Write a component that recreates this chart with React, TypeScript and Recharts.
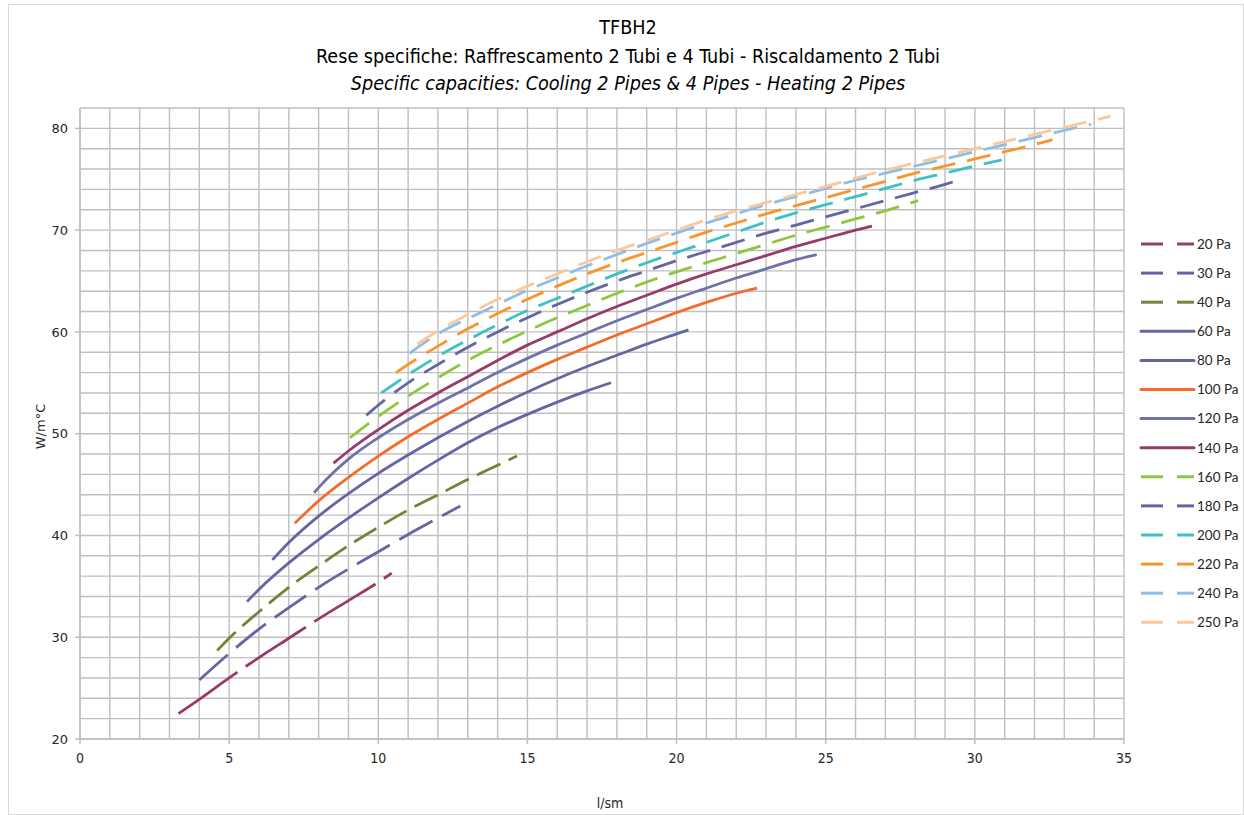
import React from 'react';
import { LineChart, Line, XAxis, YAxis, CartesianGrid } from 'recharts';

// ---------- data ----------
const seriesNames = ['20 Pa', '30 Pa', '40 Pa', '60 Pa', '80 Pa', '100 Pa', '120 Pa', '140 Pa', '160 Pa', '180 Pa', '200 Pa', '220 Pa', '240 Pa', '250 Pa'];

const pa20X = [3.3, 4, 5, 6, 7, 8, 9, 10, 10.45];
const pa20Y = [22.5, 23.9, 26.0, 28.0, 29.9, 31.8, 33.6, 35.4, 36.3];

const pa30X = [4, 5, 6, 7, 8, 9, 10, 11, 12, 12.75];
const pa30Y = [25.8, 28.4, 30.8, 32.9, 34.9, 36.7, 38.4, 40.1, 41.7, 42.9];

const pa40X = [4.6, 5, 6, 7, 8, 9, 10, 11, 12, 13, 14, 14.65];
const pa40Y = [28.7, 29.9, 32.5, 34.9, 37.0, 39.0, 40.8, 42.5, 44.0, 45.5, 46.9, 47.8];

const pa60X = [5.6, 6, 7, 8, 9, 10, 11, 12, 13, 14, 15, 16, 17, 17.8];
const pa60Y = [33.5, 34.7, 37.3, 39.6, 41.7, 43.7, 45.6, 47.4, 49.1, 50.6, 51.9, 53.1, 54.2, 55.0];

const pa80X = [6.45, 7, 8, 9, 10, 11, 12, 13, 14, 15, 16, 17, 18, 19, 20, 20.4];
const pa80Y = [37.6, 39.3, 41.9, 44.1, 46.1, 47.9, 49.6, 51.2, 52.7, 54.1, 55.4, 56.6, 57.7, 58.8, 59.8, 60.2];

const pa100X = [7.2, 8, 9, 10, 11, 12, 13, 14, 15, 16, 17, 18, 19, 20, 21, 22, 22.7];
const pa100Y = [41.2, 43.4, 45.7, 47.8, 49.7, 51.4, 53.0, 54.6, 56.0, 57.3, 58.5, 59.7, 60.8, 61.9, 62.9, 63.8, 64.3];

const pa120X = [7.85, 8, 9, 10, 11, 12, 13, 14, 15, 16, 17, 18, 19, 20, 21, 22, 23, 24, 24.7];
const pa120Y = [44.2, 44.7, 47.5, 49.6, 51.4, 53.0, 54.5, 56.0, 57.4, 58.7, 59.9, 61.1, 62.2, 63.3, 64.3, 65.3, 66.2, 67.1, 67.6];

const pa140X = [8.5, 9, 10, 11, 12, 13, 14, 15, 16, 17, 18, 19, 20, 21, 22, 23, 24, 25, 26, 26.55];
const pa140Y = [47.1, 48.3, 50.4, 52.3, 54.0, 55.6, 57.2, 58.7, 60.0, 61.3, 62.5, 63.6, 64.7, 65.7, 66.6, 67.5, 68.4, 69.2, 70.0, 70.4];

const pa160X = [9.05, 10, 11, 12, 13, 14, 15, 16, 17, 18, 19, 20, 21, 22, 23, 24, 25, 26, 27, 28.1];
const pa160Y = [49.6, 51.7, 53.7, 55.5, 57.2, 58.7, 60.1, 61.4, 62.6, 63.8, 64.9, 65.9, 66.8, 67.7, 68.6, 69.5, 70.3, 71.1, 71.9, 72.9];

const pa180X = [9.6, 10, 11, 12, 13, 14, 15, 16, 17, 18, 19, 20, 21, 22, 23, 24, 25, 26, 27, 28, 29, 29.55];
const pa180Y = [51.8, 52.8, 55.0, 56.8, 58.5, 60.0, 61.4, 62.7, 63.9, 65.0, 66.0, 67.0, 67.9, 68.8, 69.7, 70.5, 71.3, 72.1, 72.9, 73.7, 74.5, 75.0];

const pa200X = [10.1, 11, 12, 13, 14, 15, 16, 17, 18, 19, 20, 21, 22, 23, 24, 25, 26, 27, 28, 29, 30, 30.9];
const pa200Y = [54.0, 55.8, 57.6, 59.2, 60.7, 62.1, 63.3, 64.5, 65.7, 66.8, 67.8, 68.8, 69.8, 70.8, 71.7, 72.5, 73.3, 74.1, 74.9, 75.6, 76.3, 76.9];

const pa220X = [10.6, 11, 12, 13, 14, 15, 16, 17, 18, 19, 20, 21, 22, 23, 24, 25, 26, 27, 28, 29, 30, 31, 32, 32.6];
const pa220Y = [56.0, 56.8, 58.6, 60.3, 61.8, 63.2, 64.5, 65.7, 66.8, 67.8, 68.8, 69.8, 70.7, 71.6, 72.4, 73.2, 74.0, 74.8, 75.6, 76.3, 77.0, 77.7, 78.4, 78.9];

const pa240X = [11.05, 12, 13, 14, 15, 16, 17, 18, 19, 20, 21, 22, 23, 24, 25, 26, 27, 28, 29, 30, 31, 32, 33, 33.9];
const pa240Y = [57.9, 59.8, 61.3, 62.7, 64.1, 65.3, 66.5, 67.6, 68.7, 69.7, 70.7, 71.6, 72.5, 73.3, 74.1, 74.9, 75.6, 76.3, 77.0, 77.7, 78.4, 79.1, 79.8, 80.4];

const pa250X = [11.3, 12, 13, 14, 15, 16, 17, 18, 19, 20, 21, 22, 23, 24, 25, 26, 27, 28, 29, 30, 31, 32, 33, 34, 34.55];
const pa250Y = [58.8, 60.1, 61.7, 63.2, 64.5, 65.7, 66.9, 68.0, 69.0, 70.0, 71.0, 71.9, 72.7, 73.5, 74.3, 75.1, 75.9, 76.6, 77.3, 78.0, 78.7, 79.4, 80.1, 80.8, 81.2];

const xTicks = [0, 1, 2, 3, 4, 5, 6, 7, 8, 9, 10, 11, 12, 13, 14, 15, 16, 17, 18, 19, 20, 21, 22, 23, 24, 25, 26, 27, 28, 29, 30, 31, 32, 33, 34, 35];
const xLabelTicks = [0, 5, 10, 15, 20, 25, 30, 35];
const yTicks = [20, 22, 24, 26, 28, 30, 32, 34, 36, 38, 40, 42, 44, 46, 48, 50, 52, 54, 56, 58, 60, 62, 64, 66, 68, 70, 72, 74, 76, 78, 80, 82];
const yLabelTicks = [20, 30, 40, 50, 60, 70, 80];

// ---------- styles ----------
const seriesColors = ['#963b6b', '#6366a3', '#7a803a', '#6366a3', '#6366a3', '#f26c2b', '#6f72aa', '#963b6b', '#8dc63f', '#6366a3', '#3fc0c4', '#f7962f', '#8fbde6', '#fbc79b'];
const seriesDash = ['72 10', '38 11', '26 9', '', '', '', '', '', '24 12', '24 12', '24 12', '24 12', '24 12', '24 12'];

const pair = (xs: number[], ys: number[]) => xs.map((x, i) => ({ x, y: ys[i] }));
const seriesData = [
  pair(pa20X, pa20Y), pair(pa30X, pa30Y), pair(pa40X, pa40Y), pair(pa60X, pa60Y), pair(pa80X, pa80Y),
  pair(pa100X, pa100Y), pair(pa120X, pa120Y), pair(pa140X, pa140Y), pair(pa160X, pa160Y), pair(pa180X, pa180Y),
  pair(pa200X, pa200Y), pair(pa220X, pa220Y), pair(pa240X, pa240Y), pair(pa250X, pa250Y),
];

const GRID = '#bfbfbf';
const TEXT = '#262626';
const NARROW = '"Liberation Sans Narrow", "DejaVu Sans Condensed", "Roboto Condensed", "Liberation Sans", sans-serif';

const X_TICK_SIZE = 5, X_TICK_MARGIN = 9;
const Y_TICK_SIZE = 5, Y_TICK_MARGIN = 7;

const XTick = (props: any) => {
  const { x, y, payload } = props;
  const v = payload.value;
  if (!xLabelTicks.includes(v)) return <g />;
  return (
    <g>
      <line x1={x} x2={x} y1={y - X_TICK_MARGIN - X_TICK_SIZE} y2={y - X_TICK_MARGIN} stroke={GRID} strokeWidth={1.5} />
      <text x={x} y={y} dy="0.71em" textAnchor="middle" fontFamily={NARROW} fontSize={14} fill={TEXT}>{v}</text>
    </g>
  );
};

const YTick = (props: any) => {
  const { x, y, payload } = props;
  const v = payload.value;
  if (!yLabelTicks.includes(v)) return <g />;
  return (
    <g>
      <line x1={x + Y_TICK_MARGIN} x2={x + Y_TICK_MARGIN + Y_TICK_SIZE} y1={y} y2={y} stroke={GRID} strokeWidth={1.5} />
      <text x={x} y={y} dy="0.36em" textAnchor="end" fontFamily='"DejaVu Sans", sans-serif' fontSize={13} fill={TEXT}>{v}</text>
    </g>
  );
};

const Legend = () => (
  <svg width={110} height={420} style={{ position: 'absolute', left: 1134, top: 230 }}>
    {seriesNames.map((name, i) => {
      const cy = 14 + i * 29.1;
      const dashed = seriesDash[i] !== '';
      return (
        <g key={name}>
          {dashed ? (
            <>
              <line x1={7} x2={29} y1={cy} y2={cy} stroke={seriesColors[i]} strokeWidth={3} />
              <line x1={43} x2={60} y1={cy} y2={cy} stroke={seriesColors[i]} strokeWidth={3} />
            </>
          ) : (
            <line x1={7} x2={60} y1={cy} y2={cy} stroke={seriesColors[i]} strokeWidth={3} strokeLinecap="round" />
          )}
          <text x={63} y={cy} dy="0.36em" fontFamily='Lato, "Liberation Sans", sans-serif' fontSize={13.5} fill={TEXT}>{name}</text>
        </g>
      );
    })}
  </svg>
);

const titleStyle: React.CSSProperties = {
  position: 'absolute', left: 128, width: 1000, textAlign: 'center',
  fontFamily: NARROW, fontSize: 19.6, color: '#000', lineHeight: '22px', whiteSpace: 'nowrap',
};

export default function App() {
  return (
    <div style={{ position: 'absolute', left: 0, top: 0, width: 1244, height: 815, background: '#fff', overflow: 'hidden' }}>
      <div style={{ position: 'absolute', left: 8, top: 4, width: 1236, height: 811, border: '1px solid #d9d9d9', boxSizing: 'border-box' }} />
      <div style={{ ...titleStyle, top: 17 }}>TFBH2</div>
      <div style={{ ...titleStyle, top: 46 }}>Rese specifiche: Raffrescamento 2 Tubi e 4 Tubi - Riscaldamento 2 Tubi</div>
      <div style={{ ...titleStyle, top: 73, fontStyle: 'italic' }}>Specific capacities: Cooling 2 Pipes &amp; 4 Pipes - Heating 2 Pipes</div>
      <div style={{ position: 'absolute', left: 0, top: 0 }}>
        <LineChart width={1244} height={815} margin={{ top: 108, right: 120, bottom: 36, left: 20 }}>
          <CartesianGrid stroke={GRID} strokeWidth={1.4} />
          <XAxis
            type="number" dataKey="x" domain={[0, 35]} ticks={xTicks} interval={0} allowDataOverflow
            height={40} tickSize={X_TICK_SIZE} tickMargin={X_TICK_MARGIN} tickLine={false}
            tick={<XTick />} axisLine={{ stroke: GRID, strokeWidth: 1.5 }}
            label={{
              content: (p: any) => {
                const vb = p.viewBox;
                return (
                  <text x={vb.x + vb.width / 2 + 8} y={vb.y + 64} dy="0.36em" textAnchor="middle" fontFamily={NARROW} fontSize={14} fill={TEXT}>l/sm</text>
                );
              },
            }}
          />
          <YAxis
            type="number" dataKey="y" domain={[20, 82]} ticks={yTicks} interval={0} allowDataOverflow
            width={60} tickSize={Y_TICK_SIZE} tickMargin={Y_TICK_MARGIN} tickLine={false}
            tick={<YTick />} axisLine={{ stroke: GRID, strokeWidth: 1.5 }}
            label={{
              content: (p: any) => {
                const vb = p.viewBox;
                const cx = vb.x + 20;
                const cy = vb.y + vb.height / 2 + 3;
                return (
                  <text x={cx} y={cy} dy="0.36em" textAnchor="middle" transform={`rotate(-90 ${cx} ${cy})`} fontFamily='"DejaVu Sans", sans-serif' fontSize={13} fill={TEXT}>W/m°C</text>
                );
              },
            }}
          />
          {seriesData.map((d, i) => (
            <Line
              key={seriesNames[i]}
              name={seriesNames[i]}
              data={d}
              dataKey="y"
              type="monotone"
              stroke={seriesColors[i]}
              strokeWidth={2.8}
              strokeDasharray={seriesDash[i] || undefined}
              dot={false}
              activeDot={false}
              isAnimationActive={false}
            />
          ))}
        </LineChart>
      </div>
      <Legend />
    </div>
  );
}
